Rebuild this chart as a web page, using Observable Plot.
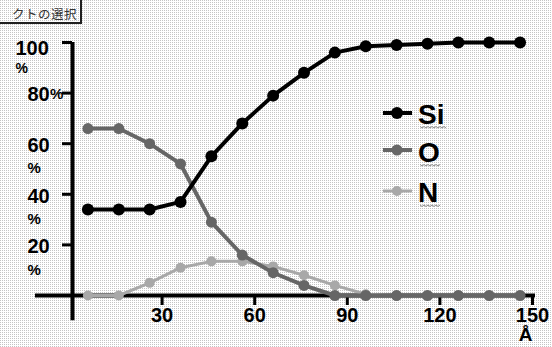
<!DOCTYPE html>
<html><head><meta charset="utf-8">
<script src="https://cdn.jsdelivr.net/npm/d3@7"></script>
<script src="https://cdn.jsdelivr.net/npm/@observablehq/plot@0.6"></script>
<style>
html,body{margin:0;padding:0;background:#fff;}
#wrap{position:relative;width:552px;height:347px;overflow:hidden;background-color:#fff;
background-image:url("data:image/svg+xml,%3Csvg xmlns='http://www.w3.org/2000/svg' width='2' height='2'%3E%3Crect width='1' height='1' fill='%23c4c4c4'/%3E%3C/svg%3E");}
#wrap svg.plot{position:absolute;left:0;top:0;background:transparent;}
#btn{position:absolute;left:-4px;top:-3px;width:86px;height:27px;border-right:2px solid #222;border-bottom:2px solid #222;box-sizing:border-box;
font:12.5px "Noto Sans CJK JP",sans-serif;color:#333;padding:9px 0 0 16px;line-height:16px;letter-spacing:0.5px;}
#legend{position:absolute;left:0;top:0;}
</style></head><body><div id="wrap"><div id="btn">クトの選択</div></div>
<script>
// ---- data ----
const depth = [5, 15, 25, 35, 45, 55, 65, 75, 85, 95, 105, 115, 125, 135, 145];
const si = [34, 34, 34, 37, 55, 68, 79, 88, 96, 98.5, 99, 99.5, 100, 100, 100];
const o  = [66, 66, 60, 52, 29, 16, 9, 4, 0, 0, 0, 0, 0, 0, 0];
const n  = [0, 0, 5, 11, 13.5, 13.5, 11.5, 8, 4, 0.5, 0, 0, 0, 0, 0];
const seriesNames = ["Si", "O", "N"];
const xTicks = [30, 60, 90, 120, 150];
const yTicks = [100, 80, 60, 40, 20];
const yTickNums = ["100", "80", "60", "40", "20"];
const yUnit = "%";
const yUnitInline = [80];   // ticks whose "%" sits on the same line
const xUnit = "Å";

const colors = {Si: "#000000", O: "#666666", N: "#a8a8a8"};
const widths = {Si: 4, O: 4, N: 3};
const radii = {Si: 6, O: 5.5, N: 5};
const values = {Si: si, O: o, N: n};
const rows = [];
for (const s of seriesNames) depth.forEach((d, i) => rows.push({series: s, x: d, y: values[s][i]}));

const font = '"Liberation Sans",Arial,sans-serif';
const fs = 20;
const yLab = yTicks.map((t, i) => ({t, num: yTickNums[i]}));
const topLab = yLab.filter(d => d.t === 100);
const restLab = yLab.filter(d => d.t !== 100);
const belowLab = restLab.filter(d => !yUnitInline.includes(d.t));
const inlineLab = restLab.filter(d => yUnitInline.includes(d.t));

const seriesMarks = [];
for (const s of ["N", "O", "Si"]) {
  const data = rows.filter(r => r.series === s);
  seriesMarks.push(Plot.line(data, {x: "x", y: "y", stroke: colors[s], strokeWidth: widths[s]}));
  seriesMarks.push(Plot.dot(data, {x: "x", y: "y", fill: colors[s], r: radii[s], stroke: "none"}));
}
const tOpts = {y: "t", frameAnchor: "left", textAnchor: "start", lineAnchor: "top", fontWeight: "bold"};

const chart = Plot.plot({
  width: 552, height: 347,
  marginLeft: 72, marginRight: 17, marginTop: 42, marginBottom: 52,
  x: {domain: [0, 150]},
  y: {domain: [0, 100]},
  style: {fontFamily: font, fontWeight: "bold", fontSize: fs + "px", color: "#000", background: "transparent"},
  marks: [
    Plot.ruleY([0], {x1: -12, x2: 150, stroke: "#000", strokeWidth: 4}),
    Plot.ruleX([0], {y1: -10, y2: 100, stroke: "#000", strokeWidth: 4}),
    Plot.axisX({ticks: xTicks, tickSize: 10, tickPadding: 2, strokeWidth: 3, dx: -3, label: null, fontSize: fs, fontWeight: "bold"}),
    Plot.axisY({ticks: yTicks, tickSize: 10, strokeWidth: 3, tickFormat: () => "", label: null}),
    // tick numbers
    Plot.text(restLab, {...tOpts, text: "num", dx: -45, dy: -6, fontSize: fs}),
    Plot.text(topLab, {...tOpts, text: "num", dx: -57, dy: -2, fontSize: fs}),
    // percent signs
    Plot.text(belowLab, {...tOpts, text: () => yUnit, dx: -45, dy: 19, fontSize: 15}),
    Plot.text(topLab, {...tOpts, text: () => yUnit, dx: -57, dy: 21, fontSize: 14}),
    Plot.text(inlineLab, {...tOpts, text: () => yUnit, dx: -22.5, dy: -5, fontSize: 15}),
    Plot.text([xUnit], {frameAnchor: "bottom-right", text: d => d, textAnchor: "middle", lineAnchor: "top", dx: -10, dy: 32, fontSize: 19, fontWeight: "bold"}),
    ...seriesMarks
  ]
});
chart.classList.add("plot");
const wrap = document.getElementById("wrap");
wrap.appendChild(chart);

// ---- legend ----
const ns = "http://www.w3.org/2000/svg";
const leg = document.createElementNS(ns, "svg");
leg.setAttribute("id", "legend");
leg.setAttribute("width", 552); leg.setAttribute("height", 347);
const legY = {Si: 113, O: 150, N: 191};
const legBase = {Si: 123.5, O: 161.5, N: 202};
for (const s of seriesNames) {
  const cy = legY[s];
  const ln = document.createElementNS(ns, "line");
  ln.setAttribute("x1", 383); ln.setAttribute("x2", 412); ln.setAttribute("y1", cy); ln.setAttribute("y2", cy);
  ln.setAttribute("stroke", colors[s]); ln.setAttribute("stroke-width", widths[s]);
  leg.appendChild(ln);
  const c = document.createElementNS(ns, "circle");
  c.setAttribute("cx", 397); c.setAttribute("cy", cy); c.setAttribute("r", radii[s]); c.setAttribute("fill", colors[s]);
  leg.appendChild(c);
  const t = document.createElementNS(ns, "text");
  t.setAttribute("x", 418); t.setAttribute("y", legBase[s]);
  t.setAttribute("font-family", '"Liberation Sans",Arial,sans-serif');
  t.setAttribute("font-weight", "bold"); t.setAttribute("font-size", 28);
  t.textContent = s;
  leg.appendChild(t);
  // wavy underline
  const w = s === "Si" ? 26 : 20;
  let d = `M420,${legBase[s] + 3}`;
  for (let k = 0; k < w; k += 2) d += ` l2,${k % 4 === 0 ? 1.5 : -1.5}`;
  const p = document.createElementNS(ns, "path");
  p.setAttribute("d", d); p.setAttribute("fill", "none"); p.setAttribute("stroke", "#8a8a8a"); p.setAttribute("stroke-width", 1);
  leg.appendChild(p);
}
wrap.appendChild(leg);
</script></body></html>
